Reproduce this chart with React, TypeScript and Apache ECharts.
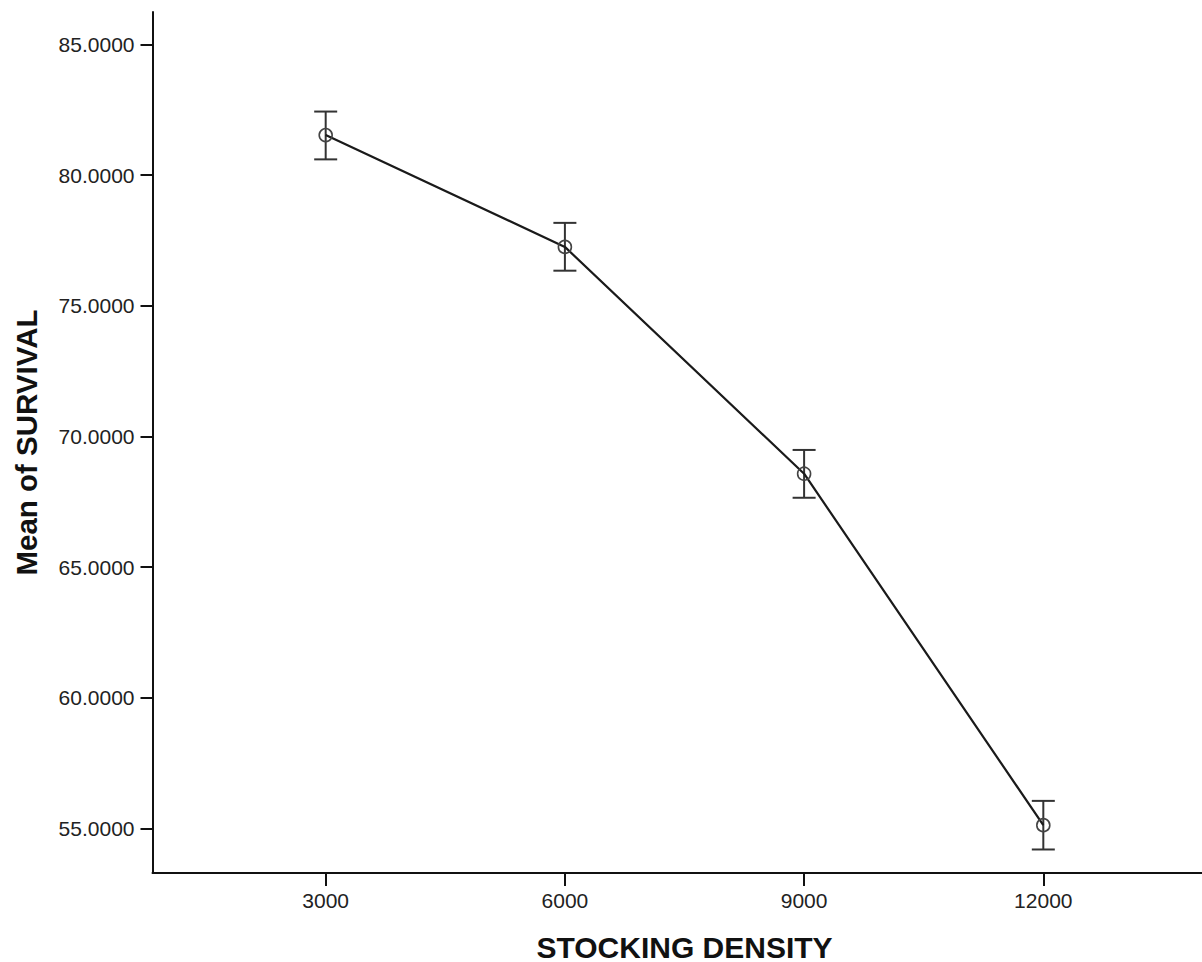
import React, { useEffect, useRef } from "react";
import * as echarts from "echarts";

const densities = [3000, 6000, 9000, 12000];
const meanSurvival = [81.53, 77.25, 68.57, 55.12];
const lowerCI = [80.6, 76.34, 67.65, 54.19];
const upperCI = [82.43, 78.17, 69.48, 56.05];
const yTicks = [55, 60, 65, 70, 75, 80, 85];
const xTicks = [3000, 6000, 9000, 12000];

export default function App() {
  const ref = useRef<HTMLDivElement>(null);
  useEffect(() => {
    if (!ref.current) return;
    const chart = echarts.init(ref.current, null, { renderer: "svg" });
    const font = "Arial, 'Liberation Sans', sans-serif";
    chart.setOption({
      animation: false,
      backgroundColor: "#ffffff",
      grid: {
        left: 152.5,
        top: 12,
        width: 1064,
        bottom: 89,
        containLabel: false,
        outerBoundsMode: "none",
      },
      xAxis: {
        type: "value",
        min: 828,
        max: 14172,
        name: "STOCKING DENSITY",
        nameLocation: "middle",
        nameGap: 59,
        nameTextStyle: { fontFamily: font, fontWeight: "bold", fontSize: 30, color: "#111" },
        axisLine: { show: true, onZero: false, lineStyle: { color: "#111", width: 2 } },
        axisTick: { show: true, inside: false, length: 13, lineStyle: { color: "#111", width: 2 }, customValues: xTicks },
        axisLabel: {
          fontFamily: font,
          fontSize: 21,
          color: "#222",
          margin: 17,
          customValues: xTicks,
          formatter: (v: number) => String(v),
        },
        splitLine: { show: false },
      },
      yAxis: {
        type: "value",
        min: 53.29,
        max: 86.24,
        name: "Mean of SURVIVAL",
        nameLocation: "middle",
        nameGap: 111,
        nameRotate: 90,
        nameTextStyle: { fontFamily: font, fontWeight: "bold", fontSize: 29.5, color: "#111" },
        axisLine: { show: true, onZero: false, lineStyle: { color: "#111", width: 2 } },
        axisTick: { show: true, inside: false, length: 12, lineStyle: { color: "#111", width: 2 }, customValues: yTicks },
        axisLabel: {
          fontFamily: font,
          fontSize: 21,
          color: "#222",
          margin: 18,
          customValues: yTicks,
          formatter: (v: number) => v.toFixed(4),
        },
        splitLine: { show: false },
      },
      series: [
        {
          type: "custom",
          z: 3,
          data: densities.map((d, i) => [d, lowerCI[i], upperCI[i]]),
          renderItem: (params: any, api: any) => {
            const x = api.value(0);
            const lo = api.coord([x, api.value(1)]);
            const hi = api.coord([x, api.value(2)]);
            const hw = 11.5;
            const style = { stroke: "#333", lineWidth: 2 };
            return {
              type: "group",
              children: [
                { type: "line", shape: { x1: lo[0], y1: lo[1], x2: hi[0], y2: hi[1] }, style },
                { type: "line", shape: { x1: lo[0] - hw, y1: lo[1], x2: lo[0] + hw, y2: lo[1] }, style },
                { type: "line", shape: { x1: hi[0] - hw, y1: hi[1], x2: hi[0] + hw, y2: hi[1] }, style },
              ],
            };
          },
        },
        {
          type: "line",
          z: 4,
          data: densities.map((d, i) => [d, meanSurvival[i]]),
          symbol: "circle",
          symbolSize: 13,
          lineStyle: { color: "#1a1a1a", width: 2.2 },
          itemStyle: { color: "transparent", borderColor: "#444", borderWidth: 1.6 },
        },
      ],
    });
    return () => chart.dispose();
  }, []);
  return (
    <div
      ref={ref}
      style={{ position: "absolute", left: 0, top: 0, width: 1202, height: 962, background: "#fff" }}
    />
  );
}
